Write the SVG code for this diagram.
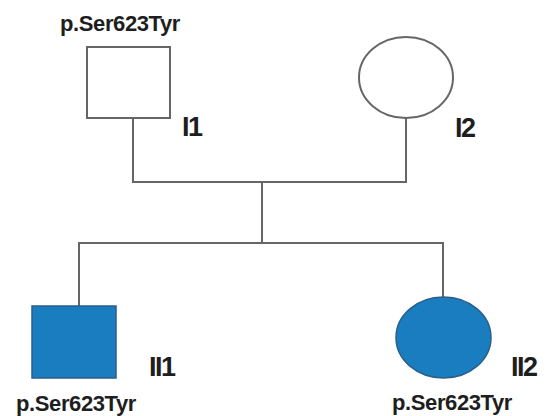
<svg xmlns="http://www.w3.org/2000/svg" width="555" height="416" viewBox="0 0 555 416">
  <style>
    .line { fill: none; stroke: #666; stroke-width: 2; }
    .open { fill: #fff; stroke: #666; stroke-width: 2; }
    .aff { fill: #1a7dc0; stroke: #2a5f8a; stroke-width: 1.5; }
    .var { font-family: "Liberation Sans", Arial, sans-serif; font-weight: bold; font-size: 22px; fill: #1e1e1e; letter-spacing: -0.4px; }
    .id { font-family: "Liberation Sans", Arial, sans-serif; font-weight: bold; font-size: 27px; fill: #1e1e1e; letter-spacing: -1.5px; }
  </style>
  <rect width="555" height="416" fill="#fff"/>
  <g id="connectors">
    <polyline class="line" points="133,118 133,182 406,182 406,118"/>
    <line class="line" x1="262" y1="182" x2="262" y2="243"/>
    <polyline class="line" points="79,306 79,243 443,243 443,297"/>
  </g>
  <g id="I1">
    <rect class="open" x="87" y="47" width="83" height="71"/>
    <text class="var" x="120" y="31" text-anchor="middle">p.Ser623Tyr</text>
    <text class="id" x="182" y="136">I1</text>
  </g>
  <g id="I2">
    <ellipse class="open" cx="406" cy="77.5" rx="47" ry="40.5"/>
    <text class="id" x="455" y="137">I2</text>
  </g>
  <g id="II1">
    <rect class="aff" x="32" y="306" width="84" height="72"/>
    <text class="id" x="149" y="376">II1</text>
    <text class="var" x="76" y="411" text-anchor="middle">p.Ser623Tyr</text>
  </g>
  <g id="II2">
    <ellipse class="aff" cx="443.5" cy="337.5" rx="47.5" ry="40.5"/>
    <text class="id" x="511" y="376">II2</text>
    <text class="var" x="452" y="410" text-anchor="middle">p.Ser623Tyr</text>
  </g>
</svg>
